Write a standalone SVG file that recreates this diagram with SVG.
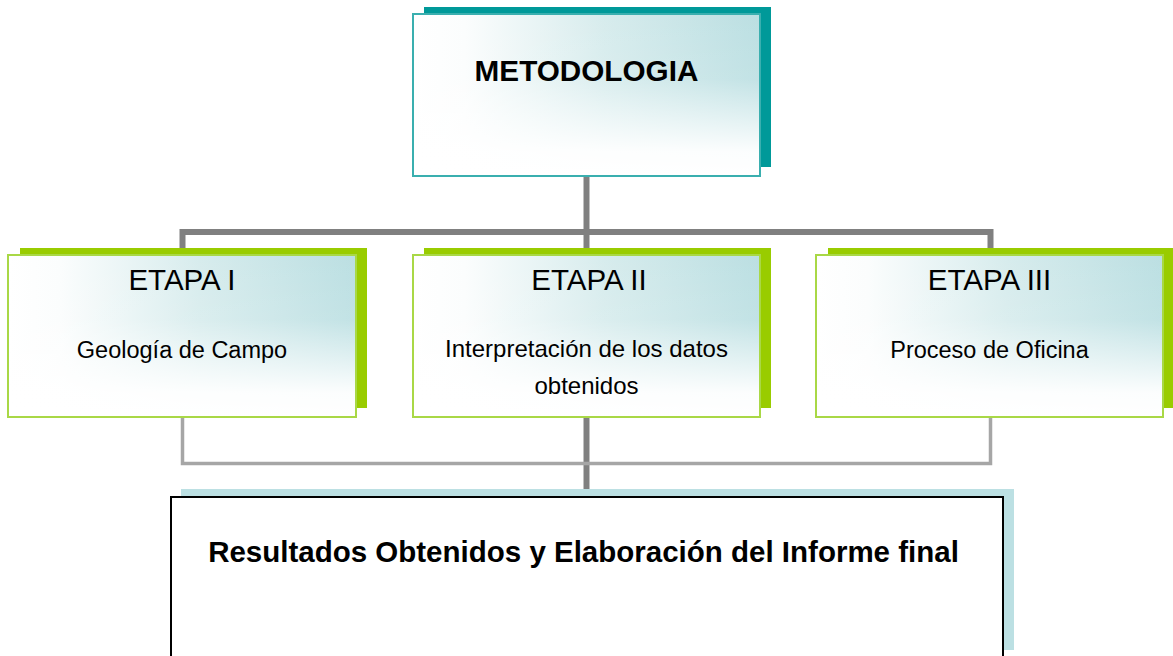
<svg xmlns="http://www.w3.org/2000/svg" width="1173" height="656" viewBox="0 0 1173 656">
<style>
.t{font-family:"Liberation Sans",Arial,sans-serif;fill:#000;text-anchor:middle}
.b{font-weight:bold}
.dk{stroke:#808080;stroke-width:6;fill:none}
.lt{stroke:#A6A6A6;stroke-width:3.5;fill:none}
.teal{fill:#009999}
.green{fill:#99CC00}
.fT{stroke:#3AAFAF;stroke-width:2}
.fG{stroke:#A9D846;stroke-width:2}
</style>
<defs>
<linearGradient id="gh" x1="0" y1="0" x2="1" y2="0">
<stop offset="0" stop-color="#FFFFFF"/>
<stop offset="0.15" stop-color="#FBFDFD"/>
<stop offset="0.55" stop-color="#D7ECED"/>
<stop offset="1" stop-color="#BBDFE2"/>
</linearGradient>
<linearGradient id="gv" x1="0" y1="0" x2="0" y2="1">
<stop offset="0" stop-color="#FFFFFF" stop-opacity="0"/>
<stop offset="0.4" stop-color="#FFFFFF" stop-opacity="0.1"/>
<stop offset="0.85" stop-color="#FFFFFF" stop-opacity="0.95"/>
<stop offset="1" stop-color="#FFFFFF" stop-opacity="1"/>
</linearGradient>
</defs>
<rect width="1173" height="656" fill="#FFFFFF"/>
<g id="connectors">
<line class="dk" x1="586.5" y1="176" x2="586.5" y2="232"/>
<polyline class="dk" points="182.5,250 182.5,232 990.5,232 990.5,250"/>
<line class="dk" x1="586.5" y1="232" x2="586.5" y2="250"/>
<line class="dk" x1="586.5" y1="417" x2="586.5" y2="490"/>
<polyline class="lt" points="182.5,417 182.5,463.5 990.5,463.5 990.5,417"/>
</g>
<g id="metodologia">
<rect class="teal" x="424" y="7" width="347" height="160"/>
<rect x="413" y="14" width="347" height="162" fill="url(#gh)"/>
<rect x="413" y="14" width="347" height="162" fill="url(#gv)" class="fT"/>
<text class="t b" x="586.5" y="81" font-size="29.7">METODOLOGIA</text>
</g>
<g id="etapa1">
<rect class="green" x="20" y="248" width="347" height="160"/>
<rect x="8" y="255" width="348" height="162" fill="url(#gh)"/>
<rect x="8" y="255" width="348" height="162" fill="url(#gv)" class="fG"/>
<text class="t" x="182" y="290" font-size="29.5">ETAPA I</text>
<text class="t" x="182" y="357.5" font-size="23.5">Geología de Campo</text>
</g>
<g id="etapa2">
<rect class="green" x="424" y="248" width="347" height="160"/>
<rect x="413" y="255" width="347" height="162" fill="url(#gh)"/>
<rect x="413" y="255" width="347" height="162" fill="url(#gv)" class="fG"/>
<text class="t" x="589" y="290" font-size="29.5">ETAPA II</text>
<text class="t" x="586.5" y="356.5" font-size="24">Interpretación de los datos</text>
<text class="t" x="586.5" y="394" font-size="24">obtenidos</text>
</g>
<g id="etapa3">
<rect class="green" x="828" y="248" width="345" height="160"/>
<rect x="816" y="255" width="347" height="162" fill="url(#gh)"/>
<rect x="816" y="255" width="347" height="162" fill="url(#gv)" class="fG"/>
<text class="t" x="989.5" y="290" font-size="29.5">ETAPA III</text>
<text class="t" x="989.5" y="357.5" font-size="23.5">Proceso de Oficina</text>
</g>
<g id="resultados">
<rect x="181" y="489" width="833" height="161" fill="#BCE0E3"/>
<rect x="171" y="497" width="832" height="170" fill="#FFFFFF" stroke="#000" stroke-width="2"/>
<text class="t b" x="583.5" y="561.5" font-size="29.5">Resultados Obtenidos y Elaboración del Informe final</text>
</g>
</svg>
